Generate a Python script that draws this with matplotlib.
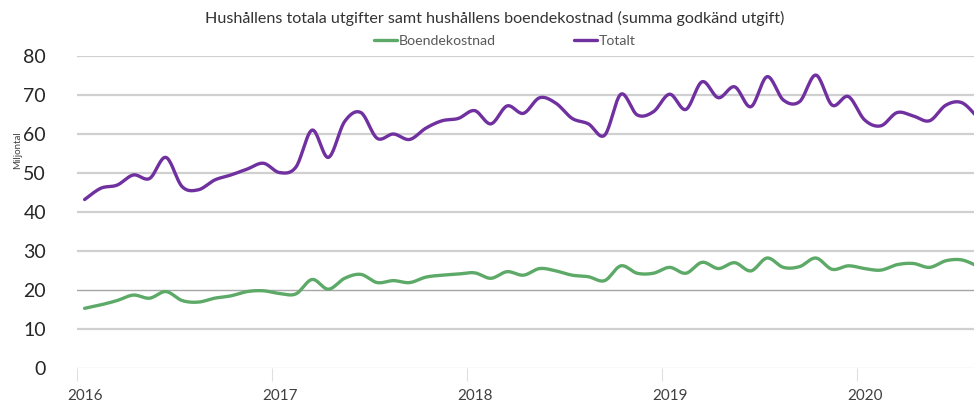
import numpy as np
import matplotlib
matplotlib.use("Agg")
import matplotlib.pyplot as plt
import matplotlib.transforms as mtransforms

# ---- data (monthly, Jan 2016 .. Aug 2020), miljontal ----
years = ["2016", "2017", "2018", "2019", "2020"]
totalt = [43.2, 46.1, 46.9, 49.5, 48.6, 54.0, 46.5, 45.7, 48.2, 49.5, 51.0, 52.5,
          50.1, 51.5, 61.0, 54.0, 63.2, 65.5, 58.9, 60.0, 58.6, 61.5, 63.4, 64.0,
          66.0, 62.6, 67.2, 65.3, 69.3, 67.9, 64.0, 62.6, 59.7, 70.2, 64.9, 65.7,
          70.2, 66.3, 73.4, 69.3, 72.1, 67.0, 74.7, 68.7, 68.3, 75.1, 67.4, 69.6,
          63.6, 62.1, 65.5, 64.6, 63.4, 67.4, 68.0, 64.0]
boende = [15.3, 16.2, 17.3, 18.7, 17.9, 19.6, 17.3, 16.9, 17.9, 18.5, 19.6, 19.8,
          19.1, 19.0, 22.7, 20.2, 23.0, 24.0, 21.9, 22.4, 21.9, 23.3, 23.8, 24.1,
          24.4, 23.0, 24.7, 23.8, 25.5, 24.9, 23.8, 23.4, 22.4, 26.2, 24.3, 24.3,
          25.8, 24.3, 27.1, 25.5, 27.0, 24.9, 28.2, 25.8, 26.0, 28.2, 25.3, 26.2,
          25.5, 25.1, 26.5, 26.8, 25.8, 27.5, 27.7, 26.0]
labels = ["Boendekostnad", "Totalt"]
colors = ["#5DAA68", "#7030A0"]
title = "Hushållens totala utgifter samt hushållens boendekostnad (summa godkänd utgift)"
ylabel = "Miljontal"


def smooth(x, y, per=20):
    """Bezier smoothing through the points (Excel-like smoothed line)."""
    x = np.asarray(x, float)
    y = np.asarray(y, float)
    P = np.column_stack([x, y])
    n = len(P)
    out = [P[0]]
    t = np.linspace(0, 1, per + 1)[1:]
    for i in range(n - 1):
        p0 = P[i - 1] if i > 0 else P[i]
        p1 = P[i]
        p2 = P[i + 1]
        p3 = P[i + 2] if i + 2 < n else P[i + 1]
        c1 = p1 + (p2 - p0) / 6.0
        c2 = p2 - (p3 - p1) / 6.0
        b = ((1 - t) ** 3)[:, None] * p1 + (3 * (1 - t) ** 2 * t)[:, None] * c1 \
            + (3 * (1 - t) * t ** 2)[:, None] * c2 + (t ** 3)[:, None] * p2
        out.extend(b)
    out = np.array(out)
    return out[:, 0], out[:, 1]


plt.rcParams["font.family"] = ["Lato", "DejaVu Sans"]

fig = plt.figure(figsize=(9.74, 4.16), dpi=100)
ax = fig.add_axes([76.5 / 974, 48 / 416, 1 - 76.5 / 974, 312 / 416])

xm = np.arange(len(totalt)) + 0.5
for vals, lab, col in zip([boende, totalt], labels, colors):
    sx, sy = smooth(xm, vals)
    ax.plot(sx, sy, color=col, lw=2.4, label=lab, solid_capstyle="round", zorder=3)

ax.set_xlim(0, (974 - 76.5) / 16.25)
ax.set_ylim(0, 80)
ax.set_yticks(np.arange(0, 81, 10))
ax.set_xticks(np.arange(len(years)) * 12)
ax.set_xticklabels(years)

for s in ax.spines.values():
    s.set_visible(False)

# gridlines
for v in range(10, 81, 10):
    if v == 20:
        ax.axhline(v, color="#A6A6A6", lw=1.0, zorder=1)
    else:
        ax.axhline(v, color="#D0D0D0", lw=1.6, zorder=1)
ax.axhline(0, color="#E3E3E3", lw=1.0, zorder=1)

ax.tick_params(axis="y", length=0, pad=22, labelsize=14, labelcolor="#262626")
ax.tick_params(axis="x", length=9, width=0.8, color="#E0E0E0", pad=6,
               labelsize=11, labelcolor="#404040")
shift = mtransforms.ScaledTranslation(9 / 100, 0, fig.dpi_scale_trans)
for lbl in ax.get_xticklabels():
    lbl.set_transform(lbl.get_transform() + shift)

fig.text(18 / 974, 1 - 150 / 416, ylabel, rotation=90, ha="center", va="center",
         fontsize=7, color="#404040")
fig.text(495 / 974, 1 - 18 / 416, title, ha="center", va="center",
         fontsize=11.6, color="#333333")

leg = ax.legend(loc="center", bbox_to_anchor=(505 / 974, 1 - 41 / 416),
                bbox_transform=fig.transFigure, ncol=2, frameon=False,
                fontsize=10.2, handlelength=1.6, handletextpad=0.15,
                columnspacing=5.5, borderpad=0)
for t in leg.get_texts():
    t.set_color("#595959")

fig.savefig("out.png", dpi=100)
